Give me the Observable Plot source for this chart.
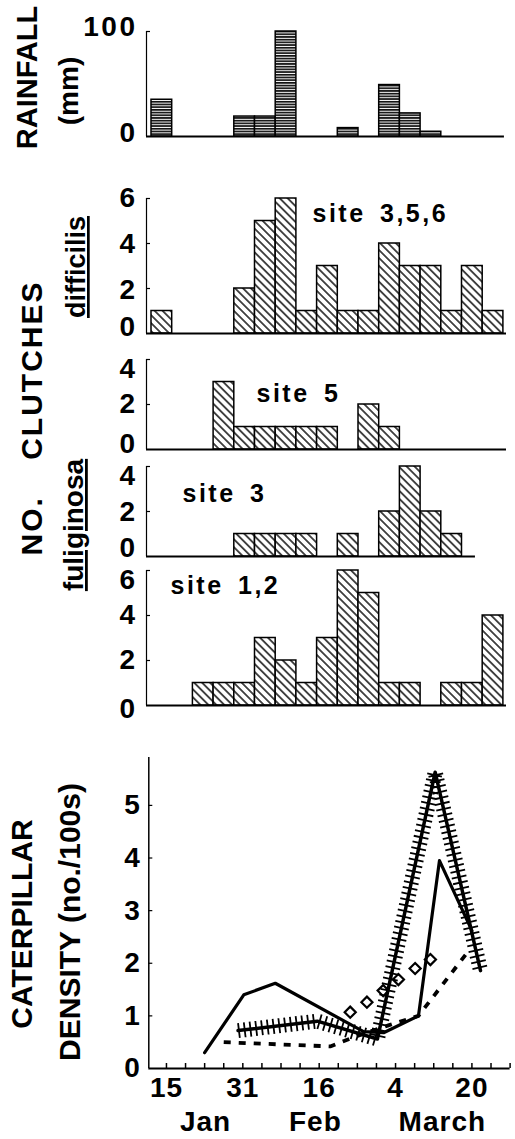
<!DOCTYPE html>
<html><head><meta charset="utf-8">
<script src="https://cdn.jsdelivr.net/npm/d3@7"></script>
<script src="https://cdn.jsdelivr.net/npm/@observablehq/plot@0.6"></script>
<style>
html,body{margin:0;padding:0;background:#fff;}
#page{position:relative;width:515px;height:1139px;overflow:hidden;}
#page svg{position:absolute;left:0;}
</style></head><body><div id="page"></div>
<script>
// ---------- data ----------
// 17 equal sampling periods shown as bars
const bins = d3.range(17);
const rainfall   = [35,0,0,0,19,19,100,0,0,8,0,49,22,4.5,0,0,0];
const difficilis = [1,0,0,0,2,5,6,1,3,1,1,4,3,3,1,3,1];
const site5      = [0,0,0,3,1,1,1,1,1,0,2,1,0,0,0,0,0];
const site3      = [0,0,0,0,1,1,1,1,0,1,0,2,4,2,1,0,0];
const site12     = [0,0,1,1,1,3,2,1,3,6,5,1,1,0,1,1,4];

// caterpillar density (x = day of year)
const solidDay   = [23.0, 31.2, 37.8, 56.3, 60.5, 67.8, 72.2, 79.0];
const solidVal   = [0.3, 1.4, 1.62, 0.7, 0.68, 1.0, 3.95, 2.62];
const hatchDay   = [30.0, 46.6, 59.2, 71.3, 80.8];
const hatchVal   = [0.72, 0.9, 0.56, 5.63, 1.86];
const dashDay    = [27.0, 49.3, 55.0, 61.5, 67.8, 78.0];
const dashVal    = [0.5, 0.42, 0.62, 0.82, 1.0, 2.2];
const diamondDay = [53.5, 57.0, 60.4, 63.6, 67.1, 70.3];
const diamondVal = [1.07, 1.26, 1.48, 1.69, 1.9, 2.07];

const dayTicks   = d3.range(15, 88, 4);
const dayLabelAt = [15, 31, 47, 63, 79];
const dayLabels  = ["15", "31", "16", "4", "20"];
const monthAt    = [23.2, 46.2, 72.8];
const months     = ["Jan", "Feb", "March"];
const densityTicks = [0, 1, 2, 3, 4, 5];

// ---------- layout ----------
const page = document.getElementById("page");
const FONT = '"Liberation Sans", Arial, Helvetica, sans-serif';
const W = 515, MT = 30, MB = 14;
const X0 = 146, X1 = 506;
const xDomain = [-0.2415, 17.15];

// shared fill patterns
const defs = d3.create("svg").attr("width", 0).attr("height", 0).style("top", "0px");
defs.append("defs").html(`
  <pattern id="hz" patternUnits="userSpaceOnUse" width="4" height="2.7">
    <rect width="4" height="2.7" fill="#fff"/>
    <rect y="0" width="4" height="1.7" fill="#111"/>
  </pattern>
  <pattern id="dg" patternUnits="userSpaceOnUse" width="5.6" height="5.6" patternTransform="rotate(-45)">
    <rect width="5.6" height="5.6" fill="#fff"/>
    <line x1="2.8" y1="-1" x2="2.8" y2="7" stroke="#000" stroke-width="1.4"/>
  </pattern>`);
page.appendChild(defs.node());

function place(svg, top) { svg.style.top = top + "px"; page.appendChild(svg); }

function barPanel(o) {
  const h = o.bottom - o.top;
  const rows = bins.map((b, i) => ({bin: b, v: o.values[i]})).filter(d => d.v > 0);
  const marks = [
    Plot.rect(rows, {x1: "bin", x2: d => d.bin + 1, y1: 0, y2: "v",
      fill: `url(#${o.pattern})`, stroke: "#000", strokeWidth: 1.5}),
    Plot.ruleY([0], {x1: xDomain[0], x2: o.lineEnd, stroke: "#000", strokeWidth: 2}),
    Plot.ruleX([xDomain[0]], {y1: 0, y2: o.yMax, stroke: "#000", strokeWidth: 1.2}),
    Plot.tickY(o.ticks, {y: d => d, insetRight: (X1 - X0) - 4, stroke: "#000", strokeWidth: 1.2}),
    // tick labels, nudged like the original so neighbouring panels do not collide
    ...o.labels.map((l, i) => Plot.text([String(l)], {y: () => l, frameAnchor: "left",
      dx: -9, dy: o.nudge[i], textAnchor: "end", lineAnchor: "middle"}))
  ];
  if (o.label) marks.push(Plot.text([o.label], {frameAnchor: "top-left", dx: o.ldx, dy: o.ldy,
      textAnchor: "start", lineAnchor: "middle", fontSize: 25}));
  const svg = Plot.plot({
    width: W, height: MT + h + MB,
    marginLeft: X0, marginRight: W - X1, marginTop: MT, marginBottom: MB,
    style: {background: "none", fontFamily: FONT, fontSize: "28px", fontWeight: "bold",
            overflow: "visible", color: "#000", letterSpacing: "2.5px", wordSpacing: "5px"},
    x: {domain: xDomain, axis: null},
    y: {domain: [0, o.yMax], axis: null},
    marks
  });
  place(svg, o.top - MT);
}

barPanel({values: rainfall, pattern: "hz", top: 30.7, bottom: 135.7, yMax: 100,
          ticks: [100], labels: [0, 100], nudge: [-3, -4], lineEnd: 17.05});
barPanel({values: difficilis, pattern: "dg", top: 198, bottom: 333, yMax: 6,
          ticks: [2, 4, 6], labels: [0, 2, 4, 6], nudge: [-6, 2, 1, 0], lineEnd: 17.15,
          label: "site 3,5,6", ldx: 166, ldy: 15});
barPanel({values: site5, pattern: "dg", top: 358.5, bottom: 448.5, yMax: 4,
          ticks: [2, 4], labels: [0, 2, 4], nudge: [-5, 0, 10], lineEnd: 17.15,
          label: "site 5", ldx: 110, ldy: 34.5});
barPanel({values: site3, pattern: "dg", top: 466, bottom: 556, yMax: 4,
          ticks: [2, 4], labels: [0, 2, 4], nudge: [-8, 1, 10], lineEnd: 15.65,
          label: "site 3", ldx: 36, ldy: 27});
barPanel({values: site12, pattern: "dg", top: 569.5, bottom: 704.5, yMax: 6,
          ticks: [2, 4, 6], labels: [0, 2, 4, 6], nudge: [4, 0, 0, 10], lineEnd: 17.15,
          label: "site 1,2", ldx: 24, ldy: 15.5});

// ---------- caterpillar density panel ----------
const bTop = 757, bBottom = 1068, bX0 = 148.3, bX1 = 509.6, BMB = 71;
const bH = bBottom - bTop, bW = bX1 - bX0;
const rows = (xs, ys) => xs.map((x, i) => ({day: x, v: ys[i]}));
const lineSvg = Plot.plot({
  width: W, height: MT + bH + BMB,
  marginLeft: bX0, marginRight: W - bX1, marginTop: MT, marginBottom: BMB,
  style: {background: "none", fontFamily: FONT, fontSize: "28px", fontWeight: "bold",
          overflow: "visible", color: "#000", letterSpacing: "1px"},
  x: {domain: [11.3, 87], axis: null},
  y: {domain: [0, 5.91], axis: null},
  marks: [
    Plot.ruleY([0], {stroke: "#000", strokeWidth: 2}),
    Plot.ruleX([11.3], {stroke: "#000", strokeWidth: 1.5}),
    Plot.tickX(dayTicks, {x: d => d, insetTop: bH - 5, stroke: "#000", strokeWidth: 1.5}),
    Plot.tickY(densityTicks.slice(1), {y: d => d, insetRight: bW - 4, stroke: "#000", strokeWidth: 1.2}),
    Plot.axisY({ticks: densityTicks, tickSize: 0, tickPadding: 8, label: null, tickFormat: d => String(d)}),
    Plot.text(dayLabels, {x: (d, i) => dayLabelAt[i], frameAnchor: "bottom", lineAnchor: "middle", dy: 20}),
    Plot.text(months, {x: (d, i) => monthAt[i], frameAnchor: "bottom", lineAnchor: "middle", dy: 54}),
    Plot.line(rows(hatchDay, hatchVal), {x: "day", y: "v", stroke: "#000", strokeWidth: 15,
      strokeDasharray: "1.8,4", strokeLinecap: "butt", strokeLinejoin: "bevel"}),
    Plot.line(rows(hatchDay, hatchVal), {x: "day", y: "v", stroke: "#000", strokeWidth: 3.5,
      strokeLinejoin: "round"}),
    Plot.line(rows(solidDay, solidVal), {x: "day", y: "v", stroke: "#000", strokeWidth: 3.2,
      strokeLinejoin: "round"}),
    Plot.line(rows(dashDay, dashVal), {x: "day", y: "v", stroke: "#000", strokeWidth: 3.8,
      strokeDasharray: "7,8", strokeLinecap: "butt"}),
    Plot.dot(rows(diamondDay, diamondVal), {x: "day", y: "v", symbol: "diamond2", r: 5,
      stroke: "#000", strokeWidth: 2.2, fill: "none"})
  ]
});
place(lineSvg, bTop - MT);

// ---------- rotated axis titles ----------
const ov = d3.create("svg").attr("width", W).attr("height", 1139).style("top", "0px")
  .attr("font-family", FONT).attr("font-weight", "bold").attr("fill", "#000");
function vtext(str, x, y, size, extra = {}) {
  const t = ov.append("text").attr("transform", `translate(${x},${y}) rotate(-90)`)
    .attr("text-anchor", "middle").attr("font-size", size).text(str);
  if (extra.ls) t.attr("letter-spacing", extra.ls);
  if (extra.u) t.attr("text-decoration", "underline");
  return t;
}
vtext("RAINFALL", 37, 77.5, 29);
vtext("(mm)", 78, 91, 28);
const nc = ov.append("text").attr("transform", "translate(42,418) rotate(-90)")
  .attr("text-anchor", "middle").attr("font-size", 30).attr("letter-spacing", 2);
nc.append("tspan").text("NO.");
nc.append("tspan").attr("dx", 26).text(" CLUTCHES");
vtext("difficilis", 85, 267, 27, {u: true});
vtext("fuliginosa", 83, 525, 28, {u: true});
vtext("CATERPILLAR", 32, 924, 30);
vtext("DENSITY (no./100s)", 80, 922, 30);
page.appendChild(ov.node());
</script>
</body></html>
